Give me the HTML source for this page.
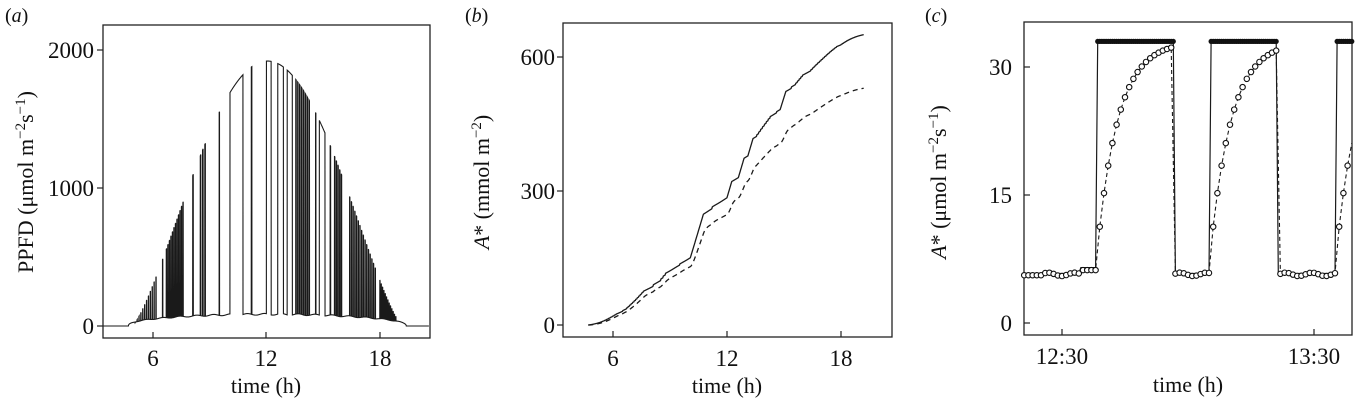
<!DOCTYPE html>
<html><head><meta charset="utf-8"><style>
html,body{margin:0;padding:0;background:#fff;}
svg{display:block;font-family:"Liberation Serif",serif;}
</style></head><body>
<svg id="s" width="1360" height="403" viewBox="0 0 1360 403" xmlns="http://www.w3.org/2000/svg">
<g fill="#111" font-size="23">
<text x="5" y="22" font-size="20">(<tspan font-style="italic">a</tspan>)</text>
<text x="465" y="22" font-size="20">(<tspan font-style="italic">b</tspan>)</text>
<text x="925" y="22" font-size="20">(<tspan font-style="italic">c</tspan>)</text>
<!-- panel a -->
<rect x="103" y="25" width="327" height="313" fill="none" stroke="#222" stroke-width="1.3"/>
<text x="94" y="58" text-anchor="end">2000</text>
<text x="94" y="196" text-anchor="end">1000</text>
<text x="94" y="334" text-anchor="end">0</text>
<text x="153" y="366" text-anchor="middle">6</text>
<text x="266" y="366" text-anchor="middle">12</text>
<text x="380" y="366" text-anchor="middle">18</text>
<text x="266" y="393" text-anchor="middle" font-size="22">time (h)</text>
<text transform="translate(33,182) rotate(-90)" text-anchor="middle" font-size="22">PPFD (μmol m<tspan dy="-8" font-size="15">−2</tspan><tspan dy="8">s</tspan><tspan dy="-8" font-size="15">−1</tspan><tspan dy="8">)</tspan></text>
<!-- panel b -->
<rect x="563" y="23" width="329" height="314" fill="none" stroke="#222" stroke-width="1.3"/>
<text x="555" y="65" text-anchor="end">600</text>
<text x="555" y="199" text-anchor="end">300</text>
<text x="555" y="333" text-anchor="end">0</text>
<text x="613" y="366" text-anchor="middle">6</text>
<text x="727" y="366" text-anchor="middle">12</text>
<text x="841" y="366" text-anchor="middle">18</text>
<text x="727" y="393" text-anchor="middle" font-size="22">time (h)</text>
<text transform="translate(489,182) rotate(-90)" text-anchor="middle" font-size="22"><tspan font-style="italic">A</tspan>* (mmol m<tspan dy="-8" font-size="15">−2</tspan><tspan dy="8">)</tspan></text>
<!-- panel c -->
<rect x="1024" y="22" width="328" height="313" fill="none" stroke="#222" stroke-width="1.3"/>
<text x="1012" y="75" text-anchor="end">30</text>
<text x="1012" y="203" text-anchor="end">15</text>
<text x="1012" y="331" text-anchor="end">0</text>
<text x="1062" y="364" text-anchor="middle">12:30</text>
<text x="1314" y="364" text-anchor="middle">13:30</text>
<text x="1188" y="392" text-anchor="middle" font-size="22">time (h)</text>
<text transform="translate(946,182) rotate(-90)" text-anchor="middle" font-size="22"><tspan font-style="italic">A</tspan>* (μmol m<tspan dy="-8" font-size="15">−2</tspan><tspan dy="8">s</tspan><tspan dy="-8" font-size="15">−1</tspan><tspan dy="8">)</tspan></text>
</g>
<g stroke="#222" stroke-width="1.2">
<line x1="97" y1="50" x2="103" y2="50"/><line x1="97" y1="188" x2="103" y2="188"/><line x1="97" y1="326" x2="103" y2="326"/>
<line x1="153" y1="338" x2="153" y2="332"/><line x1="266" y1="338" x2="266" y2="332"/><line x1="380" y1="338" x2="380" y2="332"/>
<line x1="557" y1="57" x2="563" y2="57"/><line x1="557" y1="191" x2="563" y2="191"/><line x1="557" y1="325" x2="563" y2="325"/>
<line x1="613" y1="337" x2="613" y2="331"/><line x1="727" y1="337" x2="727" y2="331"/><line x1="841" y1="337" x2="841" y2="331"/>
<line x1="1024" y1="67" x2="1030" y2="67"/><line x1="1024" y1="195" x2="1030" y2="195"/><line x1="1024" y1="323" x2="1030" y2="323"/>
<line x1="1062" y1="335" x2="1062" y2="329"/><line x1="1314" y1="335" x2="1314" y2="329"/>
</g>
<g id="dyn"></g>
</svg>
<script>
(function(){
var NS="http://www.w3.org/2000/svg",g=document.getElementById('dyn');
function el(t,a){var e=document.createElementNS(NS,t);for(var k in a)e.setAttribute(k,a[k]);g.appendChild(e);return e;}
function hi(t){if(t<4.9||t>19.2)return 0;var v=Math.sin(Math.PI*(t-4.9)/(19.2-4.9));return 1920*Math.pow(v,1.3);}
function lo(t){if(t<4.7||t>19.4)return 0;var v=Math.sin(Math.PI*(t-4.7)/(19.4-4.7));return (85+6*Math.sin(t*7))*Math.pow(v,0.4);}
var on=[];
function dense(a,b,p,w){for(var t=a;t<b;t+=p)on.push([t,t+w]);}
dense(5.05,6.2,0.1,0.018);on.push([6.5,6.52]);dense(6.7,7.6,0.08,0.02);
on.push([8.1,8.13]);dense(8.5,8.85,0.12,0.03);on.push([9.5,9.52]);
on.push([10.07,10.76]);on.push([11.2,11.23]);on.push([12.0,12.25]);on.push([12.6,12.9]);on.push([13.1,13.37]);
dense(13.55,14.3,0.1,0.03);on.push([14.6,14.62]);on.push([14.8,15.1]);on.push([15.37,15.4]);
dense(15.6,16.05,0.09,0.025);dense(16.4,17.8,0.09,0.02);dense(18.0,18.9,0.07,0.015);
function isOn(t){for(var i=0;i<on.length;i++)if(t>=on[i][0]&&t<on[i][1])return true;return false;}
var dt=0.004,T=[],P=[];
for(var t=3.35;t<=20.6;t+=dt){var p=isOn(t)?hi(t):lo(t);T.push(t);P.push(p);}
var d="";for(var i=0;i<T.length;i++){d+=(i?"L":"M")+(153+(T[i]-6)*18.9).toFixed(2)+","+(326-P[i]*0.138).toFixed(2);}
el('path',{d:d,fill:'none',stroke:'#1a1a1a','stroke-width':1.1});
var c1=0,c2=0,s=0,C1=[],C2=[];
for(var i=0;i<T.length;i++){var a=30*P[i]/(P[i]+500);c1+=a*dt;s+=(a-s)*dt/0.12;c2+=s*dt*(1-0.25*Math.max(0,T[i]-10)/9);C1.push(c1);C2.push(c2);}
var i0=0,i1=0;for(var i=0;i<T.length;i++){if(T[i]<4.7)i0=i;if(T[i]<=19.2)i1=i;}
var f1=650/(C1[i1]-C1[i0]),f2=530/(C2[i1]-C2[i0]),d1="",d2="";
for(var i=i0;i<=i1;i+=2){var x=(613+(T[i]-6)*19).toFixed(2);d1+=(d1?"L":"M")+x+","+(325-(C1[i]-C1[i0])*f1*0.4467).toFixed(2);d2+=(d2?"L":"M")+x+","+(325-(C2[i]-C2[i0])*f2*0.4467).toFixed(2);}
el('path',{d:d1,fill:'none',stroke:'#1a1a1a','stroke-width':1.3});
el('path',{d:d2,fill:'none',stroke:'#1a1a1a','stroke-width':1.3,'stroke-dasharray':'5,4'});
function X(m){return 1062+(m-30)*4.2;} function Y(v){return 323-v*8.533;}
var ons=[[38.5,57],[65.5,81.2],[95.5,200]];
function sOn(m){for(var k=0;k<ons.length;k++)if(m>=ons[k][0]&&m<ons[k][1])return k;return -1;}
var sd="",od="",O=[],F=[];
for(var m=21;m<=99;m+=0.5){var k=sOn(m),v;
 if(k>=0)v=33;else v=(m>34&&m<38.5)?6.5:5.8;
 sd+=(sd?"L":"M")+X(m).toFixed(2)+","+Y(v).toFixed(2);
 if(k>=0)F.push(m);}
for(var m=21;m<=99;m+=1){var k=sOn(m+0.01),v;
 if(k>=0){var e=m-ons[k][0];v=33-(33-9)*Math.exp(-e/5);}else v=(m>34&&m<38.5)?6.2:(m<26?5.6:5.7+0.2*Math.sin(m));
 O.push([m,v]);od+=(od?"L":"M")+X(m).toFixed(2)+","+Y(v).toFixed(2);}
el('path',{d:od,fill:'none',stroke:'#1a1a1a','stroke-width':1.1,'stroke-dasharray':'4,3'});
el('path',{d:sd,fill:'none',stroke:'#1a1a1a','stroke-width':1.2});
F.forEach(function(m){el('circle',{cx:X(m),cy:Y(33),r:2.6,fill:'#111'});});
O.forEach(function(p){if(X(p[0])<1351)el('circle',{cx:X(p[0]),cy:Y(p[1]),r:2.7,fill:'#fff',stroke:'#111','stroke-width':1.1});});
})();
</script>
</body></html>
